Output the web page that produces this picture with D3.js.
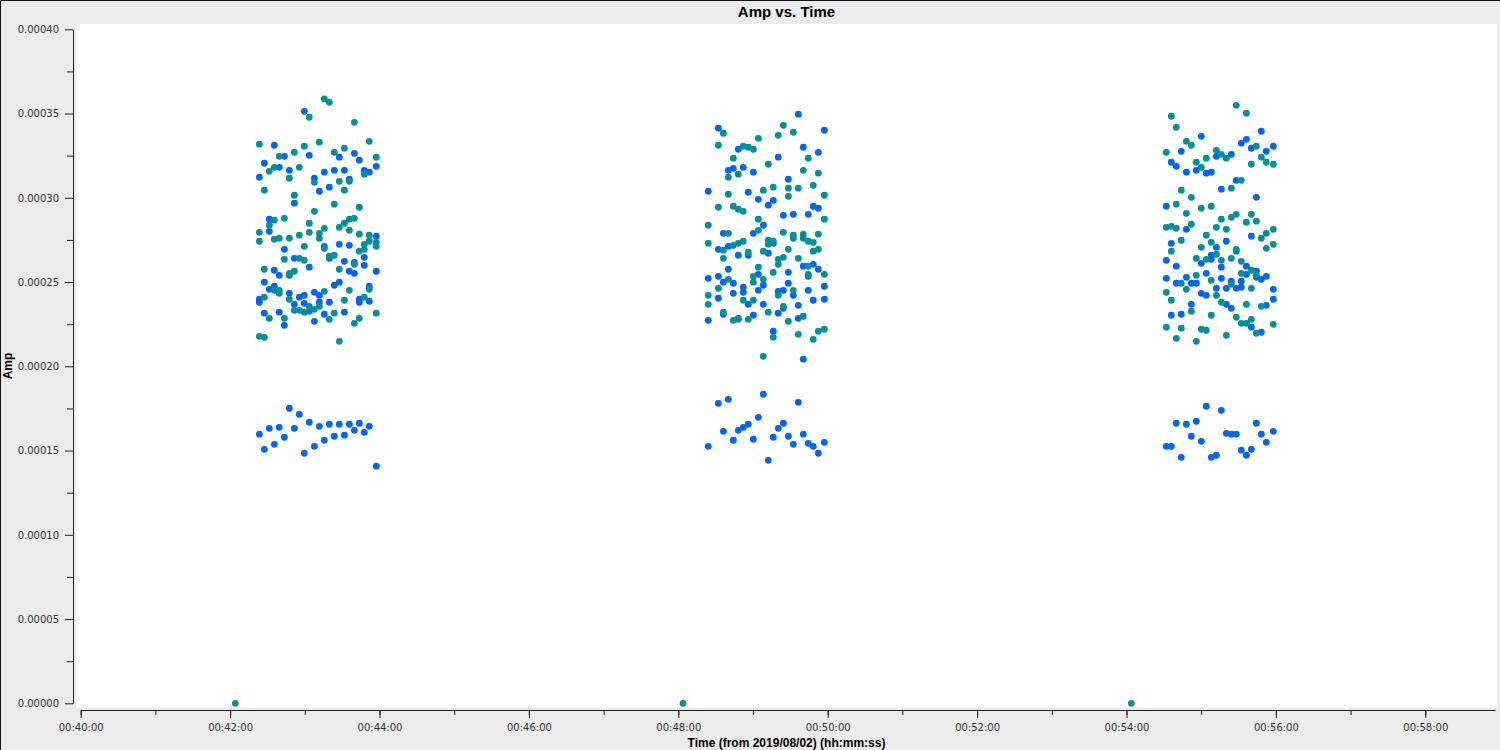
<!DOCTYPE html>
<html>
<head>
<meta charset="utf-8">
<script src="https://cdn.jsdelivr.net/npm/d3@7"></script>
<style>
  body { margin: 0; background: #ebebeb; }
  .tick text { font-family: "DejaVu Sans", sans-serif; font-size: 10px; fill: #333; }
  .tick line, .domain { stroke: #222; }
</style>
</head>
<body>
<svg id="chart"></svg>
<script>
// time axis: seconds after 00:40:00 on 2019/08/02
var startTime = "2019-08-02T00:40:00Z";
var endTime = "2019-08-02T00:58:56Z";
var ampTicks = [0, 0.00005, 0.0001, 0.00015, 0.0002, 0.00025, 0.0003, 0.00035, 0.0004];
var ampMinorTicks = [0.000025, 0.000075, 0.000125, 0.000175, 0.000225, 0.000275, 0.000325, 0.000375];

// [seconds after start, amp]
var blue1 = [[179.6,0.0003513],[155.5,0.0003312],[163.6,0.0003246],[183.6,0.0003252],[219.8,0.0003264],[207.7,0.0003241],[223.8,0.0003223],[147.5,0.0003205],[159.5,0.0003181],[167.6,0.0003163],[195.7,0.0003152],[203.7,0.0003163],[211.8,0.0003163],[227.8,0.0003163],[231.8,0.0003152],[237.4,0.0003187],[143.5,0.0003122],[187.7,0.0003116],[215.8,0.0003110],[199.7,0.0003063],[191.7,0.0003039],[171.6,0.0002968],[151.5,0.0002873],[151.5,0.0002801],[237.4,0.0002772],[163.6,0.0002694],[195.7,0.0002712],[207.7,0.0002724],[215.8,0.0002718],[227.8,0.0002647],[171.6,0.0002641],[199.7,0.0002641],[211.8,0.0002623],[219.8,0.0002617],[227.8,0.0002599],[183.6,0.0002588],[155.5,0.0002570],[159.5,0.0002540],[167.6,0.0002540],[215.8,0.0002564],[219.8,0.0002552],[237.4,0.0002564],[147.5,0.0002499],[151.5,0.0002457],[155.5,0.0002475],[167.6,0.0002433],[143.5,0.0002398],[143.5,0.0002380],[175.6,0.0002410],[179.6,0.0002421],[187.7,0.0002439],[191.7,0.0002421],[203.7,0.0002481],[207.7,0.0002499],[231.8,0.0002475],[171.6,0.0002368],[179.6,0.0002374],[183.6,0.0002327],[191.7,0.0002380],[199.7,0.0002380],[223.8,0.0002398],[223.8,0.0002380],[231.8,0.0002386],[147.5,0.0002315],[159.5,0.0002321],[163.6,0.0002243],[187.7,0.0002267],[195.7,0.0002309],[211.8,0.0002321],
  [167.6,0.0001751],[175.6,0.0001715],[183.6,0.0001668],[191.7,0.0001644],[199.7,0.0001656],[207.7,0.0001656],[215.8,0.0001656],[223.8,0.0001662],[231.8,0.0001644],[219.8,0.0001620],[227.8,0.0001608],[211.8,0.0001591],[203.7,0.0001585],[195.7,0.0001561],[187.7,0.0001525],[179.6,0.0001484],[171.6,0.0001632],[163.6,0.0001579],[159.5,0.0001638],[151.5,0.0001632],[143.5,0.0001597],[155.5,0.0001537],[147.5,0.0001507],[237.4,0.0001407]];

var teal1 = [[195.7,0.0003587],[199.7,0.0003567],[183.6,0.0003478],[219.8,0.0003448],[143.5,0.0003318],[179.6,0.0003306],[191.7,0.0003330],[231.8,0.0003335],[171.6,0.0003270],[159.5,0.0003246],[203.7,0.0003270],[211.8,0.0003294],[237.4,0.0003241],[151.5,0.0003157],[155.5,0.0003181],[175.6,0.0003181],[227.8,0.0003140],[167.6,0.0003116],[187.7,0.0003092],[207.7,0.0003098],[215.8,0.0003098],[211.8,0.0003045],[147.5,0.0003045],[171.6,0.0003015],[203.7,0.0002962],[223.8,0.0002944],[187.7,0.0002920],[151.5,0.0002837],[155.5,0.0002867],[163.6,0.0002878],[183.6,0.0002849],[195.7,0.0002819],[207.7,0.0002825],[211.8,0.0002849],[215.8,0.0002873],[219.8,0.0002878],[215.8,0.0002807],[143.5,0.0002795],[143.5,0.0002742],[155.5,0.0002754],[159.5,0.0002760],[167.6,0.0002760],[175.6,0.0002778],[183.6,0.0002795],[191.7,0.0002789],[191.7,0.0002760],[223.8,0.0002784],[231.8,0.0002778],[231.8,0.0002742],[227.8,0.0002724],[237.4,0.0002736],[237.4,0.0002712],[179.6,0.0002712],[195.7,0.0002700],[223.8,0.0002683],[227.8,0.0002694],[163.6,0.0002635],[175.6,0.0002641],[179.6,0.0002629],[199.7,0.0002653],[203.7,0.0002659],[219.8,0.0002605],[147.5,0.0002576],[167.6,0.0002552],[171.6,0.0002564],[207.7,0.0002576],[155.5,0.0002451],[159.5,0.0002451],[159.5,0.0002433],[147.5,0.0002410],[167.6,0.0002398],[195.7,0.0002445],[215.8,0.0002451],[231.8,0.0002457],[175.6,0.0002332],[183.6,0.0002356],[187.7,0.0002338],[191.7,0.0002356],[211.8,0.0002392],[227.8,0.0002410],[171.6,0.0002332],[179.6,0.0002321],[151.5,0.0002285],[163.6,0.0002285],[199.7,0.0002279],[203.7,0.0002315],[223.8,0.0002285],[219.8,0.0002255],[237.4,0.0002315],[143.5,0.0002178],[147.5,0.0002172],[207.7,0.0002148]];

var blue2 = [[576.4,0.0003496],[512.2,0.0003413],[597.3,0.0003401],[528.2,0.0003288],[580.4,0.0003300],[592.5,0.0003270],[560.3,0.0003241],[520.2,0.0003163],[524.2,0.0003175],[532.2,0.0003181],[540.3,0.0003152],[568.4,0.0003110],[504.1,0.0003039],[536.2,0.0003033],[544.3,0.0002991],[556.3,0.0002985],[552.3,0.0002956],[588.4,0.0002950],[592.5,0.0002938],[564.4,0.0002896],[572.4,0.0002902],[584.4,0.0002902],[548.3,0.0002837],[516.2,0.0002789],[540.3,0.0002789],[556.3,0.0002730],[520.2,0.0002712],[512.2,0.0002694],[536.2,0.0002659],[528.2,0.0002659],[552.3,0.0002671],[580.4,0.0002594],[588.4,0.0002605],[592.5,0.0002576],[520.2,0.0002576],[568.4,0.0002558],[584.4,0.0002534],[544.3,0.0002546],[504.1,0.0002522],[512.2,0.0002534],
  [516.2,0.0002499],[524.2,0.0002493],[548.3,0.0002481],[568.4,0.0002493],[597.3,0.0002475],[532.2,0.0002469],[532.2,0.0002439],[544.3,0.0002451],[560.3,0.0002445],[564.4,0.0002451],[572.4,0.0002421],[584.4,0.0002451],[512.2,0.0002404],[524.2,0.0002433],[536.2,0.0002368],[548.3,0.0002368],[560.3,0.0002315],[564.4,0.0002344],[576.4,0.0002362],[588.4,0.0002392],[597.3,0.0002398],[516.2,0.0002309],[540.3,0.0002303],[528.2,0.0002285],[504.1,0.0002273],[576.4,0.0002285],[556.3,0.0002208],[580.4,0.0002042],
  [548.3,0.0001834],[512.2,0.0001780],[520.2,0.0001804],[576.4,0.0001786],[544.3,0.0001697],[516.2,0.0001614],[528.2,0.0001620],[532.2,0.0001638],[536.2,0.0001656],[560.3,0.0001632],[564.4,0.0001662],[524.2,0.0001561],[540.3,0.0001567],[556.3,0.0001579],[568.4,0.0001585],[580.4,0.0001597],[572.4,0.0001537],[584.4,0.0001543],[588.4,0.0001525],[592.5,0.0001484],[597.3,0.0001549],[504.1,0.0001525],[552.3,0.0001442]];

var teal2 = [[516.2,0.0003383],[564.4,0.0003430],[560.3,0.0003371],[572.4,0.0003389],[544.3,0.0003353],[512.2,0.0003312],[532.2,0.0003306],[536.2,0.0003300],[540.3,0.0003288],[524.2,0.0003235],[584.4,0.0003235],[552.3,0.0003199],[520.2,0.0003122],[528.2,0.0003140],[580.4,0.0003163],[592.5,0.0003146],[520.2,0.0003021],[548.3,0.0003045],[556.3,0.0003063],[568.4,0.0003057],[576.4,0.0003057],[588.4,0.0003074],[568.4,0.0003009],[597.3,0.0003015],[512.2,0.0002944],[524.2,0.0002950],[528.2,0.0002932],[532.2,0.0002920],[544.3,0.0002873],[597.3,0.0002873],[504.1,0.0002837],[544.3,0.0002807],[520.2,0.0002789],[564.4,0.0002795],[572.4,0.0002778],[572.4,0.0002760],[580.4,0.0002784],[580.4,0.0002760],[584.4,0.0002742],[588.4,0.0002736],[592.5,0.0002784],[504.1,0.0002730],[552.3,0.0002748],[552.3,0.0002724],[556.3,0.0002742],[524.2,0.0002718],[528.2,0.0002730],[532.2,0.0002742],[516.2,0.0002689],[536.2,0.0002677],[548.3,0.0002683],[568.4,0.0002694],[588.4,0.0002683],[592.5,0.0002694],[516.2,0.0002641],[560.3,0.0002635],[564.4,0.0002647],[576.4,0.0002641],[560.3,0.0002605],[584.4,0.0002594],[544.3,0.0002588],[556.3,0.0002558],[597.3,0.0002546],[584.4,0.0002546],[540.3,0.0002534],[520.2,0.0002516],[548.3,0.0002516],
  [540.3,0.0002499],[512.2,0.0002463],[560.3,0.0002421],[572.4,0.0002451],[504.1,0.0002421],[532.2,0.0002392],[540.3,0.0002392],[552.3,0.0002321],[564.4,0.0002356],[504.1,0.0002368],[516.2,0.0002321],[524.2,0.0002273],[528.2,0.0002279],[536.2,0.0002279],[568.4,0.0002267],[580.4,0.0002297],[556.3,0.0002172],[576.4,0.0002190],[588.4,0.0002160],[592.5,0.0002208],[597.3,0.0002220],[548.3,0.0002059]];

var blue3 = [[948.3,0.0003395],[900.1,0.0003365],[936.3,0.0003347],[932.2,0.0003324],[940.3,0.0003294],[957.9,0.0003306],[952.3,0.0003276],[884.0,0.0003276],[912.2,0.0003246],[924.2,0.0003258],[876.0,0.0003211],[880.0,0.0003187],[896.1,0.0003163],[904.1,0.0003146],[908.1,0.0003152],[888.1,0.0003152],[928.2,0.0003104],[916.2,0.0003051],[944.3,0.0003003],[872.0,0.0002950],[888.1,0.0002813],[940.3,0.0002772],[876.0,0.0002730],[920.2,0.0002742],[912.2,0.0002706],[928.2,0.0002683],[872.0,0.0002629],[880.0,0.0002594],[908.1,0.0002659],[908.1,0.0002635],[900.1,0.0002611],[916.2,0.0002588],[936.3,0.0002594],[872.0,0.0002522],[888.1,0.0002528],[904.1,0.0002552],[916.2,0.0002522],[936.3,0.0002546],[944.3,0.0002564],[944.3,0.0002528],[952.3,0.0002534],[948.3,0.0002516],[924.2,0.0002505],[932.2,0.0002505],[880.0,0.0002493],[892.1,0.0002493],[896.1,0.0002493],
  [912.2,0.0002463],[920.2,0.0002463],[928.2,0.0002463],[932.2,0.0002469],[957.9,0.0002457],[900.1,0.0002433],[904.1,0.0002421],[892.1,0.0002368],[920.2,0.0002368],[924.2,0.0002344],[952.3,0.0002362],[957.9,0.0002398],[876.0,0.0002303],[884.0,0.0002309],[940.3,0.0002232],[948.3,0.0002202],
  [904.1,0.0001763],[916.2,0.0001739],[880.0,0.0001662],[888.1,0.0001656],[896.1,0.0001674],[892.1,0.0001585],[900.1,0.0001555],[872.0,0.0001525],[876.0,0.0001525],[884.0,0.0001460],[908.1,0.0001460],[912.2,0.0001472],[920.2,0.0001602],[924.2,0.0001597],[928.2,0.0001597],[932.2,0.0001502],[936.3,0.0001472],[940.3,0.0001507],[944.3,0.0001662],[948.3,0.0001597],[952.3,0.0001549],[957.9,0.0001614]];

var teal3 = [[928.2,0.0003549],[936.3,0.0003502],[876.0,0.0003484],[880.0,0.0003419],[888.1,0.0003335],[892.1,0.0003312],[944.3,0.0003306],[872.0,0.0003270],[912.2,0.0003282],[916.2,0.0003258],[920.2,0.0003235],[904.1,0.0003235],[896.1,0.0003211],[900.1,0.0003181],[948.3,0.0003241],[952.3,0.0003211],[957.9,0.0003199],[940.3,0.0003199],[932.2,0.0003104],[884.0,0.0003045],[924.2,0.0003057],[892.1,0.0003003],[880.0,0.0002962],[900.1,0.0002938],[908.1,0.0002950],[888.1,0.0002908],[924.2,0.0002884],[928.2,0.0002902],[940.3,0.0002902],[936.3,0.0002855],[944.3,0.0002861],[916.2,0.0002873],[872.0,0.0002825],[876.0,0.0002831],[880.0,0.0002819],[892.1,0.0002843],[912.2,0.0002825],[920.2,0.0002813],[952.3,0.0002789],[957.9,0.0002813],[948.3,0.0002760],[884.0,0.0002748],[904.1,0.0002778],[908.1,0.0002736],[900.1,0.0002706],[928.2,0.0002694],[952.3,0.0002700],[957.9,0.0002724],[876.0,0.0002683],[896.1,0.0002641],[904.1,0.0002635],[912.2,0.0002665],[916.2,0.0002629],[924.2,0.0002641],[932.2,0.0002623],[940.3,0.0002570],[896.1,0.0002540],[932.2,0.0002552],[944.3,0.0002540],[908.1,0.0002510],[884.0,0.0002493],
  [924.2,0.0002487],[940.3,0.0002463],[888.1,0.0002457],[872.0,0.0002439],[912.2,0.0002421],[876.0,0.0002392],[916.2,0.0002380],[936.3,0.0002368],[948.3,0.0002356],[892.1,0.0002327],[908.1,0.0002303],[928.2,0.0002291],[932.2,0.0002255],[936.3,0.0002255],[940.3,0.0002279],[944.3,0.0002196],[957.9,0.0002249],[872.0,0.0002232],[884.0,0.0002226],[900.1,0.0002220],[904.1,0.0002214],[880.0,0.0002166],[896.1,0.0002148],[920.2,0.0002184]];

var tealZero = [[124.2,0],[483.8,0],[843.9,0]];

var blueColor = "#0064f8";
var tealColor = "#00909a";

var W = 1500, H = 750;
var svg = d3.select("#chart").attr("width", W).attr("height", H);

svg.append("rect").attr("width", W).attr("height", H).attr("fill", "#ebebeb");
// frame edge on top and left
svg.append("path").attr("d", "M0.5,750V0.5H1500").attr("fill", "none").attr("stroke", "#111");

// plot area
svg.append("rect").attr("x", 76).attr("y", 24).attr("width", 1421).attr("height", 684).attr("fill", "#fff");

var t0 = new Date(startTime);
var x = d3.scaleUtc()
    .domain([t0, new Date(endTime)])
    .range([80.7, 1495]);
var y = d3.scaleLinear()
    .domain([0, 0.0004])
    .range([703.3, 29.3]);

function tx(d) { return x(new Date(t0.getTime() + d[0] * 1000)); }

// y axis
svg.append("g")
    .attr("transform", "translate(73,0)")
    .call(d3.axisLeft(y).tickValues(ampTicks).tickFormat(d3.format(".5f"))
      .tickSize(8).tickSizeOuter(0).tickPadding(6));
svg.append("g")
    .attr("transform", "translate(73,0)")
    .call(d3.axisLeft(y).tickValues(ampMinorTicks).tickFormat("").tickSize(6))
    .select(".domain").remove();

// x axis
svg.append("g")
    .attr("transform", "translate(0,710)")
    .call(d3.axisBottom(x).ticks(d3.utcMinute.every(2)).tickFormat(d3.utcFormat("%H:%M:%S"))
      .tickSize(8).tickSizeOuter(0).tickPadding(6));
svg.append("g")
    .attr("transform", "translate(0,710)")
    .call(d3.axisBottom(x).ticks(d3.utcMinute.every(1)).tickFormat("").tickSize(5))
    .select(".domain").remove();

// points
function drawPoints(data, color) {
  svg.append("g").selectAll("circle")
      .data(data)
    .enter().append("circle")
      .attr("cx", tx)
      .attr("cy", function(d) { return y(d[1]); })
      .attr("r", 3.4)
      .attr("fill", color);
}
drawPoints(blue1.concat(blue2, blue3), blueColor);
drawPoints(teal1.concat(teal2, teal3, tealZero), tealColor);

// titles
svg.append("text")
    .attr("x", 786.5).attr("y", 16.5)
    .attr("text-anchor", "middle")
    .style("font", "bold 15px 'Liberation Sans', Arial, sans-serif")
    .text("Amp vs. Time");
svg.append("text")
    .attr("x", 786.5).attr("y", 747)
    .attr("text-anchor", "middle")
    .style("font", "bold 12px 'Liberation Sans', Arial, sans-serif")
    .text("Time (from 2019/08/02) (hh:mm:ss)");
svg.append("text")
    .attr("transform", "translate(12,366) rotate(-90)")
    .attr("text-anchor", "middle")
    .style("font", "bold 12px 'Liberation Sans', Arial, sans-serif")
    .text("Amp");
</script>
</body>
</html>
